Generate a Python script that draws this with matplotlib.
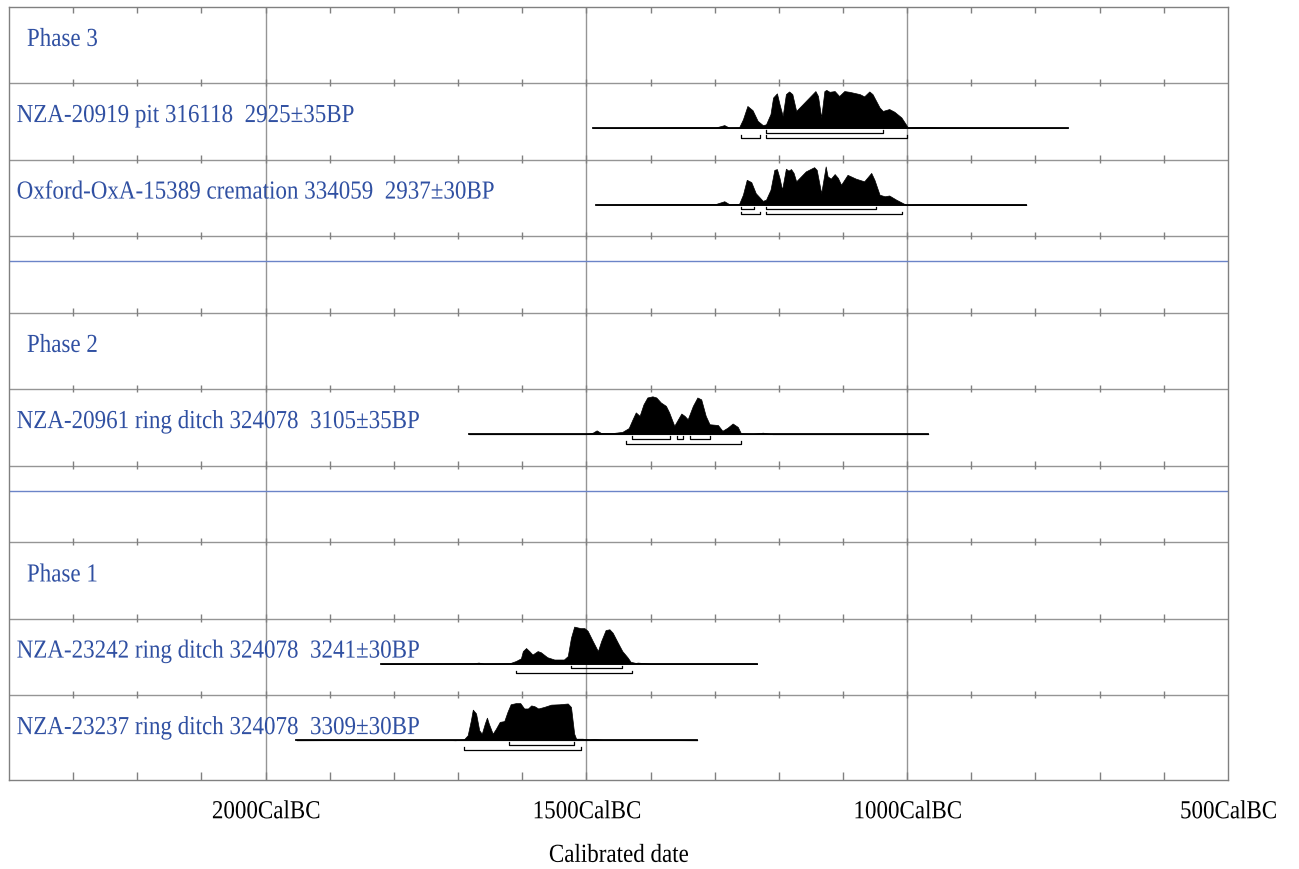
import numpy as np
import matplotlib.pyplot as plt
from matplotlib.textpath import TextPath
from matplotlib.patches import PathPatch
from matplotlib.font_manager import FontProperties
from matplotlib.transforms import Affine2D

# row labels (rows counted from top)
phase_labels = {0: "Phase 3", 4: "Phase 2", 7: "Phase 1"}
sample_labels = {
    1: "NZA-20919 pit 316118  2925\u00b135BP",
    2: "Oxford-OxA-15389 cremation 334059  2937\u00b130BP",
    5: "NZA-20961 ring ditch 324078  3105\u00b135BP",
    8: "NZA-23242 ring ditch 324078  3241\u00b130BP",
    9: "NZA-23237 ring ditch 324078  3309\u00b130BP",
}
phase_breaks = [3.33, 6.33]

tick_years = [2000, 1500, 1000, 500]
tick_labels = ["2000CalBC", "1500CalBC", "1000CalBC", "500CalBC"]

# probability curves (years cal BC, relative density)
nza20919_years = [1490, 1363, 1298, 1285, 1277, 1262, 1256, 1249, 1241, 1233, 1225, 1220, 1213, 1209,
                  1203, 1199, 1194, 1189, 1184, 1179, 1173, 1158, 1143, 1139, 1134, 1129, 1126, 1121,
                  1113, 1106, 1098, 1090, 1074, 1067, 1059, 1054, 1043, 1038, 1028, 1020, 1009, 1002,
                  999, 978, 950, 750]
nza20919_prob = [0, 0.02, 0.02, 0.08, 0.01, 0.02, 0.23, 0.58, 0.47, 0.19, 0.08, 0.10, 0.37, 0.80,
                 0.91, 0.63, 0.32, 0.89, 0.96, 0.89, 0.45, 0.71, 0.97, 0.84, 0.28, 0.97, 1.0, 0.95,
                 0.97, 0.84, 0.97, 0.95, 0.89, 0.83, 0.96, 0.89, 0.54, 0.45, 0.50, 0.43, 0.28, 0.10,
                 0.02, 0.03, 0.02, 0]
nza20919_r68 = [(1220, 1038)]
nza20919_r95 = [(1259, 1229), (1220, 1000)]

oxa15389_years = [1485, 1360, 1298, 1285, 1277, 1262, 1256, 1250, 1243, 1236, 1225, 1220, 1213, 1207,
                  1203, 1199, 1195, 1189, 1185, 1181, 1177, 1173, 1158, 1145, 1141, 1134, 1127, 1124,
                  1119, 1113, 1108, 1103, 1093, 1080, 1067, 1056, 1051, 1043, 1035, 1028, 1017, 1002,
                  980, 814]
oxa15389_prob = [0, 0.02, 0.02, 0.09, 0.01, 0.02, 0.26, 0.65, 0.59, 0.30, 0.10, 0.13, 0.39, 0.91,
                 0.93, 0.70, 0.39, 0.94, 0.89, 0.93, 0.83, 0.61, 0.87, 0.98, 0.91, 0.30, 1.0, 0.74,
                 0.68, 0.80, 0.70, 0.52, 0.78, 0.68, 0.61, 0.83, 0.65, 0.26, 0.22, 0.24, 0.13, 0.0,
                 0.01, 0]
oxa15389_r68 = [(1259, 1238), (1220, 1048)]
oxa15389_r95 = [(1259, 1229), (1220, 1008)]

nza20961_years = [1683, 1501, 1490, 1484, 1477, 1459, 1444, 1434, 1428, 1423, 1417, 1411, 1405, 1397,
                  1391, 1384, 1376, 1371, 1363, 1352, 1347, 1342, 1334, 1327, 1321, 1314, 1308, 1295,
                  1288, 1280, 1272, 1264, 1259, 1240, 1225, 1210, 967]
nza20961_prob = [0, 0, 0.04, 0.10, 0.03, 0.03, 0.06, 0.16, 0.39, 0.57, 0.48, 0.78, 0.96, 0.99,
                 0.96, 0.83, 0.74, 0.57, 0.22, 0.54, 0.48, 0.39, 0.74, 0.96, 0.91, 0.48, 0.26, 0.24,
                 0.09, 0.17, 0.28, 0.19, 0.02, 0.01, 0.04, 0.0, 0]
nza20961_r68 = [(1429, 1370), (1359, 1349), (1339, 1308)]
nza20961_r95 = [(1438, 1259)]

nza23242_years = [1820, 1676, 1668, 1660, 1620, 1610, 1602, 1599, 1594, 1589, 1584, 1576, 1571, 1561,
                  1550, 1535, 1529, 1524, 1519, 1514, 1509, 1503, 1498, 1490, 1482, 1477, 1470, 1464,
                  1459, 1451, 1444, 1436, 1431, 1423, 1420, 1400, 1234]
nza23242_prob = [0, 0.01, 0.03, 0.0, 0.01, 0.07, 0.14, 0.33, 0.41, 0.33, 0.24, 0.33, 0.30, 0.17,
                 0.11, 0.11, 0.20, 0.68, 0.97, 0.95, 0.93, 0.93, 0.86, 0.59, 0.33, 0.59, 0.88, 0.90,
                 0.81, 0.55, 0.33, 0.17, 0.05, 0.02, 0.03, 0.0, 0]
nza23242_r68 = [(1524, 1444)]
nza23242_r95 = [(1610, 1429)]

nza23237_years = [1952, 1727, 1704, 1691, 1685, 1680, 1677, 1672, 1667, 1663, 1658, 1655, 1652, 1646,
                  1641, 1635, 1628, 1623, 1618, 1610, 1603, 1597, 1591, 1586, 1581, 1575, 1566, 1555,
                  1542, 1529, 1524, 1519, 1516, 1506, 1495, 1488, 1475, 1465, 1327]
nza23237_prob = [0, 0.01, 0.0, 0.02, 0.13, 0.52, 0.80, 0.70, 0.26, 0.17, 0.45, 0.59, 0.43, 0.17,
                 0.30, 0.48, 0.50, 0.74, 0.94, 0.97, 0.97, 0.83, 0.83, 0.91, 0.89, 0.83, 0.87, 0.93,
                 0.94, 0.96, 0.87, 0.17, 0.04, 0.04, 0.02, 0.03, 0.01, 0.01, 0]
nza23237_r68 = [(1620, 1519)]
nza23237_r95 = [(1691, 1509)]

curves = [
    (1, nza20919_years, nza20919_prob, nza20919_r68, nza20919_r95),
    (2, oxa15389_years, oxa15389_prob, oxa15389_r68, oxa15389_r95),
    (5, nza20961_years, nza20961_prob, nza20961_r68, nza20961_r95),
    (8, nza23242_years, nza23242_prob, nza23242_r68, nza23242_r95),
    (9, nza23237_years, nza23237_prob, nza23237_r68, nza23237_r95),
]

label_blue = '#3050a2'
grid_grey = '#959595'
n_rows = 10
y_bottom = 10.11

fig = plt.figure(figsize=(12.99, 8.69), dpi=100)
ax = fig.add_axes([0.0069, 0.1024, 0.9384, 0.8901])
ax.set_xlim(2400, 500)
ax.set_ylim(y_bottom, 0)

fp = FontProperties(family='Liberation Serif')


def squeezed_text(x, y, s, color, ha='left', em=26.0, sx=0.885):
    # OxCal squeezes its Times text sideways; draw it as a path to copy that
    tp = TextPath((0, 0), s, size=em, prop=fp)
    w = tp.get_extents().x1 * sx
    px, py = ax.transData.transform((x, y))
    if ha == 'center':
        px -= w / 2
    tr = Affine2D().scale(sx, 1).translate(px, py)
    fig.add_artist(PathPatch(tp, transform=tr, facecolor=color, edgecolor='none', lw=0))


for s in ax.spines.values():
    s.set_color('#808080')
    s.set_linewidth(1.0)

# grid: verticals at major ticks, horizontals between rows
for yr in tick_years[:-1]:
    ax.axvline(yr, color=grid_grey, lw=1.0, zorder=1)
for r in range(1, n_rows):
    ax.axhline(r, color=grid_grey, lw=1.0, zorder=1)
for b in phase_breaks:
    ax.axhline(b, color='#6b84c8', lw=1.0, zorder=1)

# minor tick marks every 100 years on every row line
minor = np.arange(2300, 500, -100)
ax.vlines(minor, 0, 0.09, color='#808080', lw=1.0)
ax.vlines(minor, y_bottom - 0.1, y_bottom, color='#808080', lw=1.0)
for r in range(1, n_rows):
    ax.vlines(minor, r - 0.055, r + 0.04, color='#808080', lw=1.0)

# distributions
for row, yrs, prob, r68, r95 in curves:
    base = row + 0.59
    ax.plot([yrs[0], yrs[-1]], [base, base], color='black', lw=1.3, zorder=3)
    ax.fill_between(yrs, base, base - np.array(prob) * 0.5, color='black', lw=0.5, zorder=3)
    for off, ranges in [(0.06, r68), (0.125, r95)]:
        for a, b in ranges:
            yb = base + off
            ax.plot([a, a, b, b], [yb - 0.035, yb, yb, yb - 0.035], color='black', lw=0.9, zorder=3)

ax.set_xticks(tick_years)
ax.set_xticklabels([])
ax.tick_params(axis='x', length=0)
ax.set_yticks([])

# labels
for r, txt in phase_labels.items():
    squeezed_text(2372, r + 0.515, txt, label_blue)
for r, txt in sample_labels.items():
    squeezed_text(2388, r + 0.51, txt, label_blue)
for yr, txt in zip(tick_years, tick_labels):
    squeezed_text(yr, 10.61, txt, 'black', ha='center')
squeezed_text(1450, 11.18, "Calibrated date", 'black', ha='center')

fig.savefig("out.png", dpi=100)
